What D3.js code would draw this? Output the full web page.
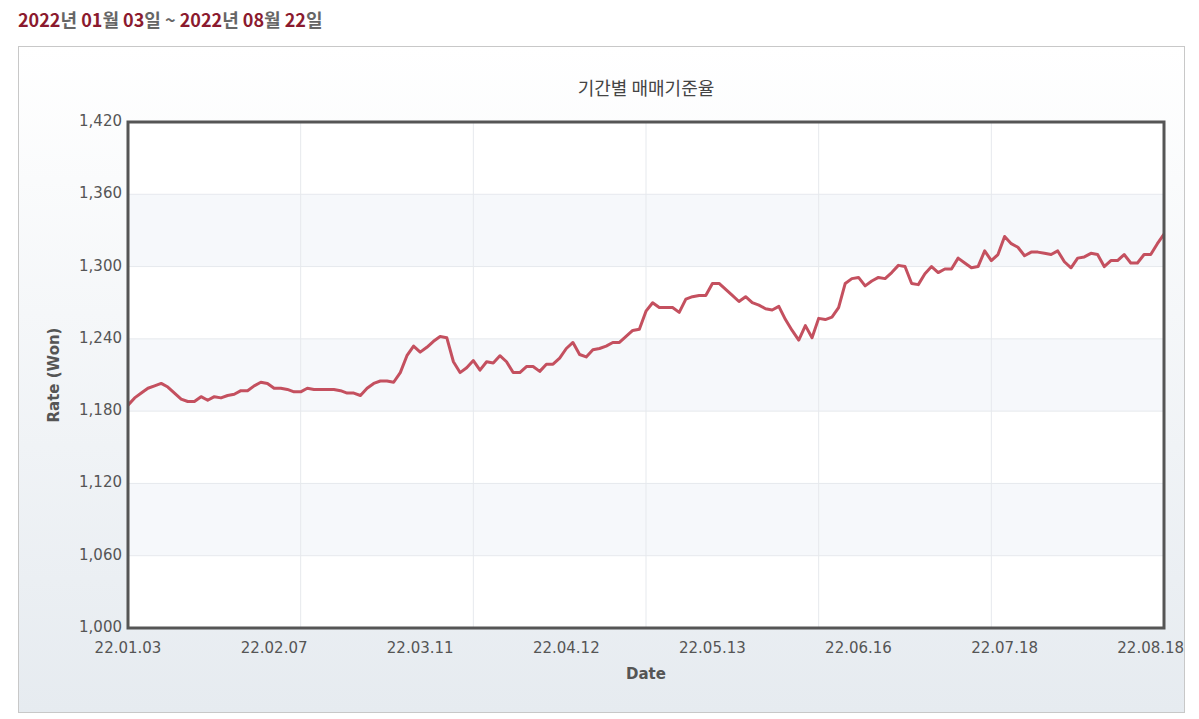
<!DOCTYPE html><html><head><meta charset="utf-8"><script src="https://d3js.org/d3.v7.min.js"></script>
<style>body{margin:0;background:#fff;font-family:"Noto Sans CJK KR","DejaVu Sans",sans-serif}</style></head><body>
<svg id="c" width="1199" height="719"></svg>
<script>
const rates=[1185,1191,1195,1199,1201,1203,1200,1195,1190,1188,1188,1192,1189,1192,1191,1193,1194,1197,1197,1201,1204,1203,1199,1199,1198,1196,1196,1199,1198,1198,1198,1198,1197,1195,1195,1193,1199,1203,1205,1205,1204,1212,1226,1234,1229,1233,1238,1242,1241,1221,1212,1216,1222,1214,1221,1220,1226,1221,1212,1212,1217,1217,1213,1219,1219,1224,1232,1237,1227,1225,1231,1232,1234,1237,1237,1242,1247,1248,1263,1270,1266,1266,1266,1262,1273,1275,1276,1276,1286,1286,1281,1276,1271,1275,1270,1268,1265,1264,1267,1256,1247,1239,1251,1241,1257,1256,1258,1266,1286,1290,1291,1284,1288,1291,1290,1295,1301,1300,1286,1285,1294,1300,1295,1298,1298,1307,1303,1299,1300,1313,1305,1310,1325,1319,1316,1309,1312,1312,1311,1310,1313,1304,1299,1307,1308,1311,1310,1300,1305,1305,1310,1303,1303,1310,1310,1319,1327];
const xLabels=["22.01.03","22.02.07","22.03.11","22.04.12","22.05.13","22.06.16","22.07.18","22.08.18"];
const xLabelIdx=[0,22,44,66,88,110,132,154];
const xGridIdx=[26,52,78,104,130];
const yTicks=[1000,1060,1120,1180,1240,1300,1360,1420];
const svg=d3.select("#c");
const defs=svg.append("defs");
const g=defs.append("linearGradient").attr("id","bg").attr("x1",0).attr("y1",0).attr("x2",0).attr("y2",1);
g.append("stop").attr("offset","0").attr("stop-color","#ffffff");
g.append("stop").attr("offset","1").attr("stop-color","#e6ebf0");
const t=svg.append("text").attr("x",18).attr("y",27).attr("font-size",18).attr("font-weight","bold");
[["2022","#8b1a2e"],["년 ","#666"],["01","#8b1a2e"],["월 ","#666"],["03","#8b1a2e"],["일 ~ ","#666"],["2022","#8b1a2e"],["년 ","#666"],["08","#8b1a2e"],["월 ","#666"],["22","#8b1a2e"],["일","#666"]].forEach(([s,c])=>t.append("tspan").attr("fill",c).text(s));
svg.append("rect").attr("x",18.5).attr("y",46.5).attr("width",1166).attr("height",666).attr("fill","url(#bg)").attr("stroke","#c8c8c8");
const L=128,R=1164,T=122,B=628;
const x=d3.scaleLinear().domain([0,rates.length-1]).range([L,R]);
const y=d3.scaleLinear().domain([1000,1420]).range([B,T]);
svg.append("rect").attr("x",L).attr("y",T).attr("width",R-L).attr("height",B-T).attr("fill","#fff");
for(let i=0;i<yTicks.length-1;i++){ if(i%2===1) svg.append("rect").attr("x",L).attr("y",y(yTicks[i+1])).attr("width",R-L).attr("height",y(yTicks[i])-y(yTicks[i+1])).attr("fill","#f6f8fb");}
svg.selectAll(".hg").data(yTicks).enter().append("line").attr("x1",L).attr("x2",R).attr("y1",d=>y(d)).attr("y2",d=>y(d)).attr("stroke","#e6e9ed");
svg.selectAll(".vg").data(xGridIdx).enter().append("line").attr("y1",T).attr("y2",B).attr("x1",d=>x(d)).attr("x2",d=>x(d)).attr("stroke","#e6e9ed");
svg.append("path").datum(rates).attr("fill","none").attr("stroke","#c4505f").attr("stroke-width",3).attr("stroke-linejoin","round")
 .attr("d",d3.line().x((d,i)=>x(i)).y(d=>y(d)));
svg.append("rect").attr("x",L).attr("y",T).attr("width",R-L).attr("height",B-T).attr("fill","none").attr("stroke","#555").attr("stroke-width",3);
svg.selectAll(".yl").data(yTicks).enter().append("text").attr("x",L-6).attr("y",d=>y(d)+4).attr("text-anchor","end").attr("font-size",15).attr("fill","#555").attr("font-family","DejaVu Sans").text(d3.format(","));
svg.selectAll(".xl").data(xLabelIdx).enter().append("text").attr("x",d=>x(d)).attr("y",B+25).attr("text-anchor","middle").attr("font-size",15).attr("fill","#555").attr("font-family","DejaVu Sans").text((d,i)=>xLabels[i]);
svg.append("text").attr("x",(L+R)/2).attr("y",95).attr("text-anchor","middle").attr("font-size",18).attr("fill","#444").text("기간별 매매기준율");
svg.append("text").attr("x",(L+R)/2).attr("y",679).attr("text-anchor","middle").attr("font-size",15).attr("font-weight","bold").attr("fill","#555").attr("font-family","DejaVu Sans").text("Date");
svg.append("text").attr("transform",`translate(59,${(T+B)/2}) rotate(-90)`).attr("text-anchor","middle").attr("font-size",15).attr("font-weight","bold").attr("fill","#555").attr("font-family","DejaVu Sans").text("Rate (Won)");
</script></body></html>
